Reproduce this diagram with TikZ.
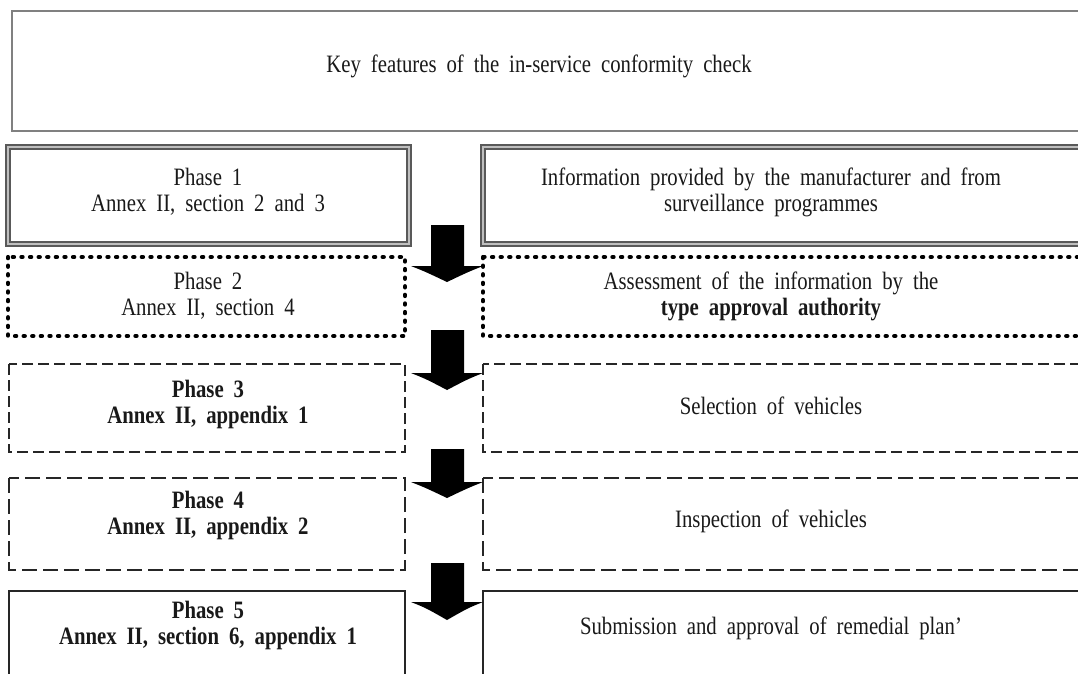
\documentclass[tikz,border=0pt]{standalone}
\usepackage{fontspec}
\setmainfont{Liberation Serif}[FakeStretch=0.83]
\newcommand\diagfont{\fontsize{25}{26}\selectfont\spaceskip 10pt plus 2pt minus 1pt\relax}
\begin{document}
\begin{tikzpicture}[x=1pt,y=-1pt,
  txt/.style={font=\diagfont, align=center, inner sep=0pt, text=black!90},
  topbox/.style={draw=black!50, line width=2.8pt},
  dblbox/.style={draw=black!65, line width=1.8pt, double=black!25, double distance=2.2pt},
  dotbox/.style={draw=black, line width=4.2pt, dash pattern=on 1.2pt off 7.4pt, line cap=round},
  dashbox/.style={draw=black!85, line width=1.9pt, dash pattern=on 11pt off 5pt},
  longdashbox/.style={draw=black!85, line width=2.2pt, dash pattern=on 15pt off 6pt},
  solidbox/.style={draw=black!85, line width=2.4pt},
  blockarrow/.style={fill=black, draw=none}
]
\useasboundingbox (0,0) rectangle (1078,673);
\clip (0,0) rectangle (1078,673);
\fill[white] (0,0) rectangle (1078,673);

% title
\draw[topbox] (12,11) rectangle (1110,131);
\node[txt] (title) at (539,66) {Key features of the in-service conformity check};

% row 1
\draw[dblbox] (8,147) rectangle (409,244);
\draw[dblbox] (483,147) rectangle (1110,244);
\node[txt] (p1) at (208,192) {Phase 1\\Annex II, section 2 and 3};
\node[txt] (r1) at (771,192) {Information provided by the manufacturer and from\\surveillance programmes};

% row 2
\draw[dotbox] (8,257) rectangle (405,336);
\draw[dotbox] (483,257) rectangle (1110,336);
\node[txt] (p2) at (208,296) {Phase 2\\Annex II, section 4};
\node[txt] (r2) at (771,296) {Assessment of the information by the\\\textbf{type approval authority}};

% row 3
\draw[dashbox] (9,364) rectangle (405,452);
\draw[dashbox] (483,364) rectangle (1110,452);
\node[txt] (p3) at (208,404) {\textbf{Phase 3}\\\textbf{Annex II, appendix 1}};
\node[txt] (r3) at (771,406) {Selection of vehicles};

% row 4
\draw[longdashbox] (9,478) rectangle (405,570);
\draw[longdashbox] (483,478) rectangle (1110,570);
\node[txt] (p4) at (208,515) {\textbf{Phase 4}\\\textbf{Annex II, appendix 2}};
\node[txt] (r4) at (771,521) {Inspection of vehicles};

% row 5
\draw[solidbox] (9,591) rectangle (405,720);
\draw[solidbox] (483,591) rectangle (1110,720);
\node[txt] (p5) at (208,625) {\textbf{Phase 5}\\\textbf{Annex II, section 6, appendix 1}};
\node[txt] (r5) at (771,628) {Submission and approval of remedial plan'};

% block arrows
\foreach \t/\h/\e in {225/266/282, 330/373/390, 449/482/498, 563/602/620}{
  \fill[blockarrow] (431,\t) -- (464,\t) -- (464,\h) -- (483,\h)
     .. controls (468,\h+6) .. (447,\e) .. controls (426,\h+6) .. (411,\h) -- (431,\h) -- cycle;
}
\end{tikzpicture}
\end{document}
